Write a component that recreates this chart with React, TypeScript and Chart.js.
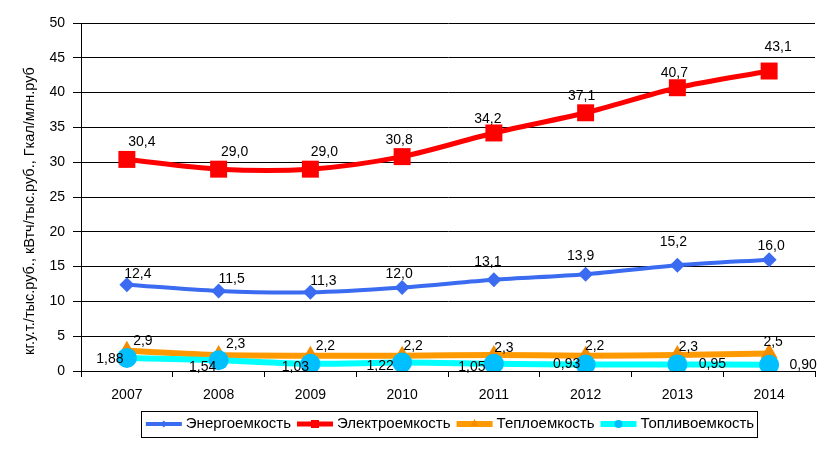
import React, { useEffect, useRef } from "react";
import { Chart, registerables } from "chart.js";

Chart.register(...registerables);

const years = ["2007", "2008", "2009", "2010", "2011", "2012", "2013", "2014"];
const energo = [12.4, 11.5, 11.3, 12.0, 13.1, 13.9, 15.2, 16.0];
const electro = [30.4, 29.0, 29.0, 30.8, 34.2, 37.1, 40.7, 43.1];
const teplo = [2.9, 2.3, 2.2, 2.2, 2.3, 2.2, 2.3, 2.5];
const toplivo = [1.88, 1.54, 1.03, 1.22, 1.05, 0.93, 0.95, 0.9];
const seriesNames = ["Энергоемкость", "Электроемкость", "Теплоемкость", "Топливоемкость"];
const yTitle = "кг.у.т./тыс.руб., кВтч/тыс.руб., Гкал/млн.руб";

const FONT = "'Liberation Sans', Arial, sans-serif";

// label offsets (presentation only)
const labelOffsets: number[][][] = [
  [[11, -11], [13, -12], [13, -11], [-3, -13], [-6, -18], [-5, -18], [-4, -23], [2, -13]],
  [[15, -17], [16, -17], [14, -17], [-3, -16], [-6, -14], [-4, -17], [-3, -15], [9, -24]],
  [[16, -10], [17, -11], [15, -10], [11, -10], [10, -7], [9, -10], [11, -8], [4, -11]],
  [[-17, 1], [-16, 7], [-15, 3], [-22, 4], [-22, 3], [-19, 0], [35, 0], [34, 0]],
];
const decimals = [1, 1, 1, 2];

const styles = [
  { line: "#3A6BF0", point: "#3A6BF0", width: 4, style: "rectRot", radius: 7.5 },
  { line: "#FF0000", point: "#FF0000", width: 5, style: "rect", radius: 12 },
  { line: "#FF9900", point: "#F28C00", width: 6, style: "triangle", radius: 10 },
  { line: "#00FFFF", point: "#00BFFF", width: 6, style: "circle", radius: 10 },
];

const overlayPlugin = {
  id: "overlay",
  afterDatasetsDraw(chart: any) {
    const ctx = chart.ctx;
    ctx.save();
    ctx.font = `14px ${FONT}`;
    ctx.fillStyle = "#000";
    ctx.textAlign = "center";
    ctx.textBaseline = "middle";
    chart.data.datasets.forEach((ds: any, di: number) => {
      const meta = chart.getDatasetMeta(di);
      meta.data.forEach((pt: any, i: number) => {
        const v = ds.data[i] as number;
        const txt = v.toFixed(decimals[di]).replace(".", ",");
        const off = labelOffsets[di][i];
        ctx.fillText(txt, pt.x + off[0], pt.y + off[1]);
      });
    });
    ctx.restore();
  },
  afterDraw(chart: any) {
    const ctx = chart.ctx;
    ctx.save();
    // y-axis title
    ctx.font = `14.5px ${FONT}`;
    ctx.fillStyle = "#000";
    ctx.translate(30, 211);
    ctx.rotate(-Math.PI / 2);
    ctx.textAlign = "center";
    ctx.textBaseline = "middle";
    ctx.fillText(yTitle, 0, 0);
    ctx.restore();

    // legend
    ctx.save();
    ctx.font = `15px ${FONT}`;
    const sample = 40;
    const widths = seriesNames.map((n) => ctx.measureText(n).width);
    let total = 0;
    widths.forEach((w) => (total += sample + 2 + w + 4));
    total -= 4;
    const boxL = 141, boxR = 757, boxT = 411, boxB = 437;
    ctx.strokeStyle = "#000";
    ctx.lineWidth = 1;
    ctx.strokeRect(boxL + 0.5, boxT + 0.5, boxR - boxL, boxB - boxT);
    let x = (boxL + boxR) / 2 - total / 2;
    const cy = (boxT + boxB) / 2;
    seriesNames.forEach((name, i) => {
      const st = styles[i];
      ctx.strokeStyle = st.line;
      ctx.lineWidth = st.width;
      ctx.beginPath();
      ctx.moveTo(x + 2, cy);
      ctx.lineTo(x + sample - 2, cy);
      ctx.stroke();
      ctx.fillStyle = st.point;
      const mx = x + sample / 2;
      ctx.beginPath();
      if (i === 0) {
        ctx.moveTo(mx, cy - 3.5); ctx.lineTo(mx + 3.5, cy); ctx.lineTo(mx, cy + 3.5); ctx.lineTo(mx - 3.5, cy);
      } else if (i === 1) {
        ctx.rect(mx - 4, cy - 4, 8, 8);
      } else if (i === 2) {
        ctx.moveTo(mx, cy - 5); ctx.lineTo(mx + 4, cy + 2); ctx.lineTo(mx - 4, cy + 2);
      } else {
        ctx.arc(mx, cy, 4, 0, Math.PI * 2);
      }
      ctx.closePath();
      ctx.fill();
      ctx.fillStyle = "#000";
      ctx.textAlign = "left";
      ctx.textBaseline = "middle";
      ctx.fillText(name, x + sample + 2, cy);
      x += sample + 2 + widths[i] + 4;
    });
    ctx.restore();
  },
};

export default function App() {
  const ref = useRef<HTMLCanvasElement>(null);
  useEffect(() => {
    if (!ref.current) return;
    const all = [energo, electro, teplo, toplivo];
    const orders = [3, 2, 1, 0];
    const chart = new Chart(ref.current, {
      type: "line",
      data: {
        labels: years,
        datasets: all.map((d, i) => ({
          label: seriesNames[i],
          data: d,
          borderColor: styles[i].line,
          backgroundColor: styles[i].point,
          borderWidth: styles[i].width,
          pointStyle: styles[i].style as any,
          pointRadius: styles[i].radius,
          pointBackgroundColor: styles[i].point,
          pointBorderColor: styles[i].point,
          pointBorderWidth: 0,
          tension: 0.3,
          fill: false,
          order: orders[i],
        })),
      },
      options: {
        responsive: false,
        animation: false,
        events: [],
        layout: { padding: { left: 0, right: 24, top: 23, bottom: 0 } },
        plugins: {
          legend: { display: false },
          tooltip: { enabled: false },
        },
        scales: {
          x: {
            offset: true,
            grid: {
              offset: true,
              drawOnChartArea: false,
              drawTicks: true,
              tickLength: 6,
              color: "#000",
            },
            border: { color: "#000", width: 1 },
            ticks: {
              color: "#000",
              font: { family: FONT, size: 14 },
              padding: 10,
              maxRotation: 0,
            },
            afterFit: (s: any) => {
              s.height = 80;
            },
          },
          y: {
            min: 0,
            max: 50,
            ticks: {
              stepSize: 5,
              color: "#000",
              font: { family: FONT, size: 14 },
              padding: 8,
            },
            grid: { color: "#000", lineWidth: 1, tickLength: 8 },
            border: { color: "#000", width: 1 },
            afterFit: (s: any) => {
              s.width = 81;
            },
          },
        },
      },
      plugins: [overlayPlugin],
    });
    return () => chart.destroy();
  }, []);
  return (
    <div style={{ position: "absolute", left: 0, top: 0, width: 839, height: 451, background: "#fff" }}>
      <canvas ref={ref} width={839} height={451} />
    </div>
  );
}
